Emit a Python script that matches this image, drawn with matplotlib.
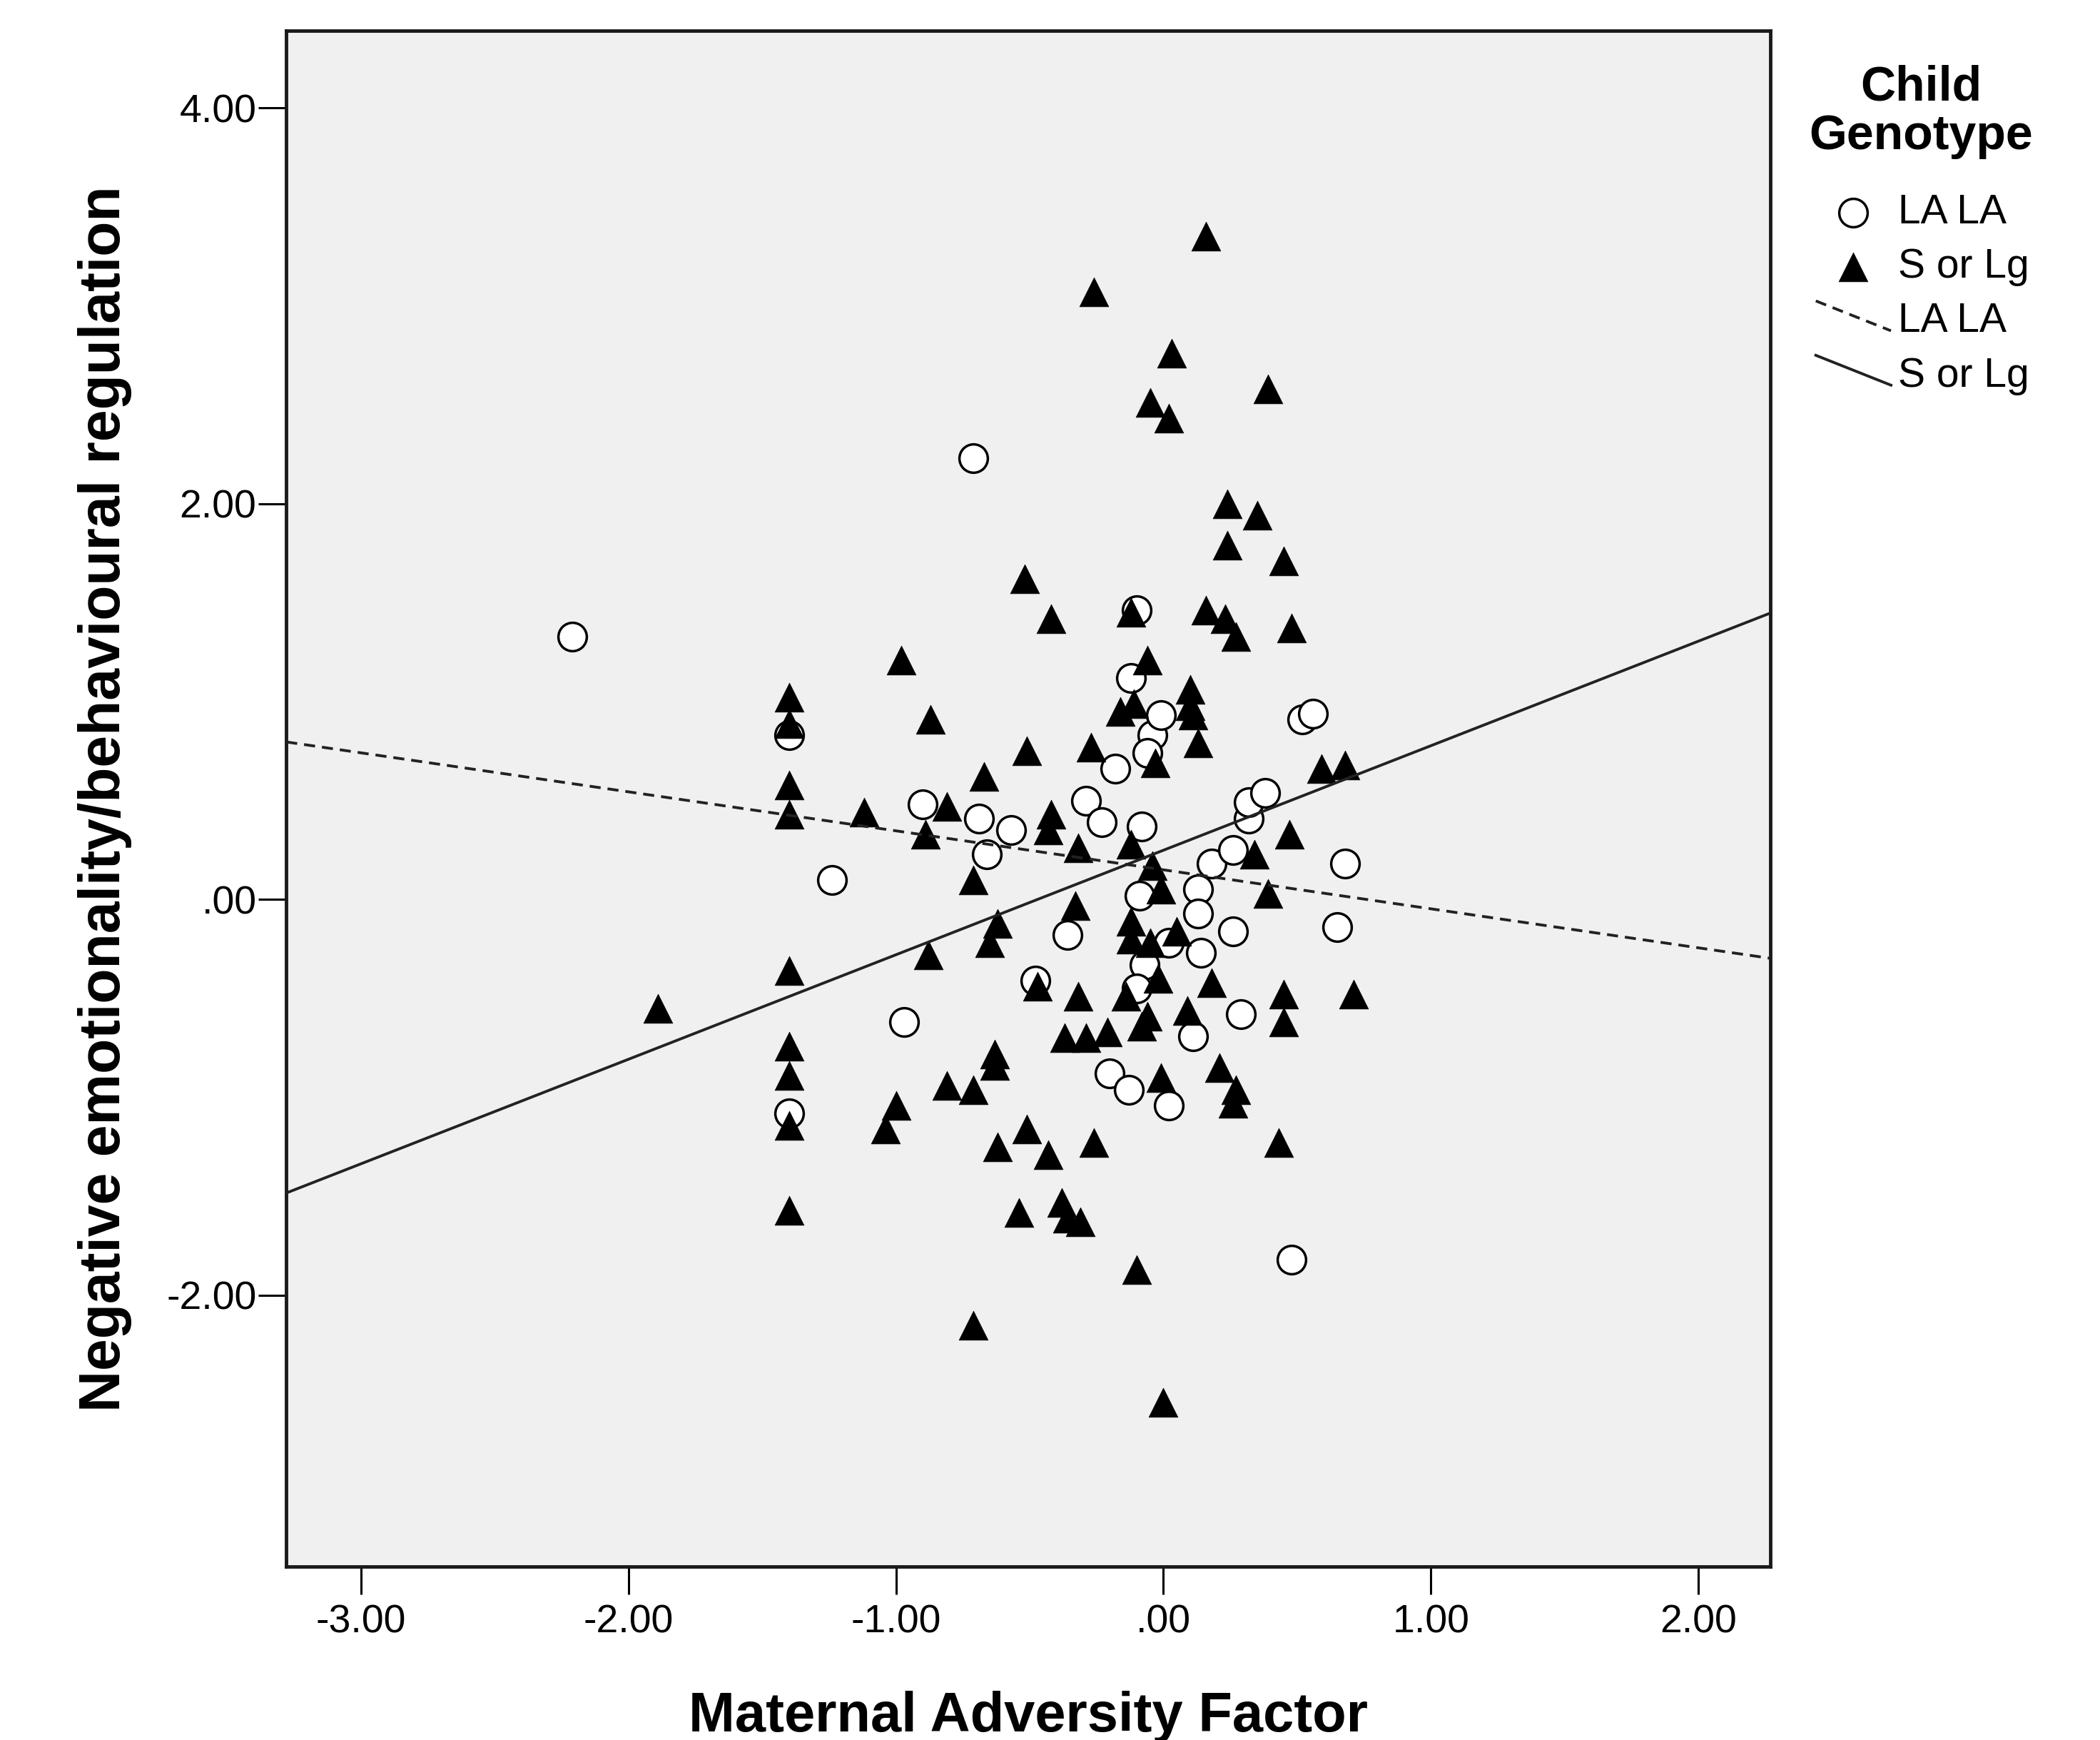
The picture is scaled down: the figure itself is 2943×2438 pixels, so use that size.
"""SPSS-style scatter: negative emotionality vs maternal adversity, by child genotype."""

import matplotlib

matplotlib.use("Agg")

import matplotlib.pyplot as plt
import numpy as np
from matplotlib.legend_handler import HandlerLine2D
from matplotlib.lines import Line2D

plt.rcParams["font.family"] = ["Liberation Sans", "DejaVu Sans"]

# LA LA children (open circles)
la_x = [-2.21, -0.71, -1.40, -1.24, -1.40, -0.97, -0.90, -0.69, -0.66, -0.57,
        -0.48, -0.36, -0.29, -0.23, -0.18, -0.10, -0.12, -0.04, -0.01, -0.06,
        -0.08, -0.09, -0.07, -0.10, 0.02, 0.02, -0.20, -0.13, 0.11, 0.13,
        0.13, 0.14, 0.18, 0.26, 0.26, 0.29, 0.32, 0.32, 0.38, 0.48,
        0.52, 0.56, 0.65, 0.68]
la_y = [1.33, 2.23, 0.83, 0.10, -1.08, -0.62, 0.48, 0.41, 0.23, 0.35,
        -0.41, -0.18, 0.50, 0.39, 0.66, 1.46, 1.12, 0.83, 0.93, 0.74,
        0.37, 0.02, -0.33, -0.45, -0.22, -1.04, -0.88, -0.96, -0.69, 0.05,
        -0.07, -0.27, 0.18, 0.25, -0.16, -0.58, 0.41, 0.49, 0.54, -1.82,
        0.91, 0.94, -0.14, 0.18]

# S or Lg children (filled triangles)
s_x = [0.16, -0.26, 0.03, -0.05, 0.02, 0.39, 0.24, 0.35, 0.24, 0.45,
       -0.52, -0.42, -0.12, 0.16, 0.23, 0.27, 0.48, -0.98, -0.06, -1.40,
       -1.40, -0.87, -0.16, -0.11, 0.10, 0.10, 0.11, 0.13, -0.27, -0.51,
       -0.03, -0.67, -1.40, -1.40, -1.12, -0.81, -0.89, -0.42, -0.43, -0.32,
       -0.12, -0.04, -0.01, 0.34, 0.47, 0.59, 0.68, -0.71, 0.39, -0.33,
       -0.62, -0.65, -0.88, -0.12, -0.12, -0.05, 0.05, -0.02, 0.18, -0.47,
       -0.32, -0.14, -0.06, -0.08, 0.09, 0.45, 0.45, 0.71, -1.89, -1.40,
       -1.40, -1.40, -1.40, -1.40, -0.37, -0.29, -0.21, -0.63, -0.63, 0.21,
       -0.01, 0.27, 0.26, -0.81, -0.71, -1.00, -1.04, -0.51, -0.62, 0.43,
       -0.26, -0.43, -0.54, -0.38, -0.36, -0.31, -0.10, -0.71, 0.00]
s_y = [3.35, 3.07, 2.76, 2.51, 2.43, 2.58, 2.00, 1.94, 1.79, 1.71,
       1.62, 1.42, 1.45, 1.46, 1.42, 1.33, 1.37, 1.21, 1.21, 1.02,
       0.89, 0.91, 0.95, 0.99, 1.06, 0.98, 0.93, 0.79, 0.77, 0.75,
       0.69, 0.62, 0.58, 0.43, 0.44, 0.47, 0.33, 0.43, 0.35, 0.26,
       0.28, 0.17, 0.05, 0.23, 0.33, 0.66, 0.68, 0.10, 0.03, -0.03,
       -0.12, -0.22, -0.28, -0.11, -0.20, -0.22, -0.16, -0.40, -0.42, -0.44,
       -0.49, -0.49, -0.59, -0.64, -0.56, -0.48, -0.62, -0.48, -0.55, -0.36,
       -0.74, -0.89, -1.14, -1.57, -0.70, -0.70, -0.67, -0.78, -0.84, -0.85,
       -0.90, -0.96, -1.03, -0.94, -0.96, -1.04, -1.16, -1.16, -1.25, -1.23,
       -1.23, -1.29, -1.58, -1.53, -1.61, -1.63, -1.87, -2.15, -2.54]

# fit lines (intercept, slope) per genotype
fit_la = (0.150, -0.197)
fit_s = (0.249, 0.528)

x_ticks = [-3, -2, -1, 0, 1, 2]
x_tick_labels = ["-3.00", "-2.00", "-1.00", ".00", "1.00", "2.00"]
y_ticks = [-2, 0, 2, 4]
y_tick_labels = ["-2.00", ".00", "2.00", "4.00"]


class SlantedLine(HandlerLine2D):
    """Legend line drawn on a slant, the way SPSS does it."""

    def create_artists(self, legend, orig_handle, xdescent, ydescent,
                       width, height, fontsize, trans):
        mid = height / 2 - ydescent
        line = Line2D([-xdescent, width - xdescent],
                      [mid + 0.6 * height, mid - 0.45 * height])
        self.update_prop(line, orig_handle, legend)
        line.set_transform(trans)
        return [line]


fig = plt.figure(figsize=(29.43, 24.38), dpi=100)
ax = fig.add_axes([0.1363, 0.0997, 0.7068, 0.8827])
ax.set_facecolor("#f0f0f0")

ax.scatter(la_x, la_y, s=820, marker="o", facecolor="white",
           edgecolor="black", linewidths=2.5, zorder=3)
ax.scatter(s_x, s_y, s=860, marker="^", facecolor="black",
           edgecolor="black", linewidths=0.5, zorder=4)

ax.set_xlim(-3.28, 2.27)
ax.set_ylim(-3.37, 4.39)

xs = np.array(ax.get_xlim())
ax.plot(xs, fit_la[0] + fit_la[1] * xs, color="#222222", lw=2.8,
        dashes=(4, 2.5), zorder=5)
ax.plot(xs, fit_s[0] + fit_s[1] * xs, color="#222222", lw=2.8, zorder=5)

ax.set_xticks(x_ticks)
ax.set_xticklabels(x_tick_labels)
ax.set_yticks(y_ticks)
ax.set_yticklabels(y_tick_labels)
ax.tick_params(axis="both", direction="out", length=28, width=2.2,
               labelsize=40, colors="black")
ax.tick_params(axis="x", pad=10)
ax.tick_params(axis="y", pad=2)
for sp in ax.spines.values():
    sp.set_linewidth(3.5)
    sp.set_color("#1a1a1a")

ax.set_xlabel("Maternal Adversity Factor", fontsize=56, fontweight="bold")
ax.set_ylabel("Negative emotionality/behavioural regulation", fontsize=58,
              fontweight="bold")
ax.xaxis.set_label_coords(0.5, -0.081)
ax.yaxis.set_label_coords(-0.104, 0.5)

h_circle = ax.scatter([], [], s=820, marker="o", facecolor="white",
                      edgecolor="black", linewidths=2.5)
h_tri = ax.scatter([], [], s=860, marker="^", facecolor="black",
                   edgecolor="black", linewidths=0.5)
h_dash = Line2D([], [], color="#222222", lw=2.8, dashes=(4, 2.5))
h_solid = Line2D([], [], color="#222222", lw=2.8)

fig.text(0.9147, 0.963, "Child\nGenotype", ha="center", va="top",
         multialignment="center", fontsize=49, fontweight="bold",
         linespacing=1.1)

leg = fig.legend(
    [h_circle, h_tri, h_dash, h_solid],
    ["LA LA", "S or Lg", "LA LA", "S or Lg"],
    loc="upper left", bbox_to_anchor=(0.855, 0.9005),
    frameon=False, fontsize=41, borderpad=0, labelspacing=0.39,
    handlelength=1.85, handletextpad=0.18, scatterpoints=1,
    handler_map={h_dash: SlantedLine(), h_solid: SlantedLine()},
)

fig.savefig("out.png", dpi=100)
